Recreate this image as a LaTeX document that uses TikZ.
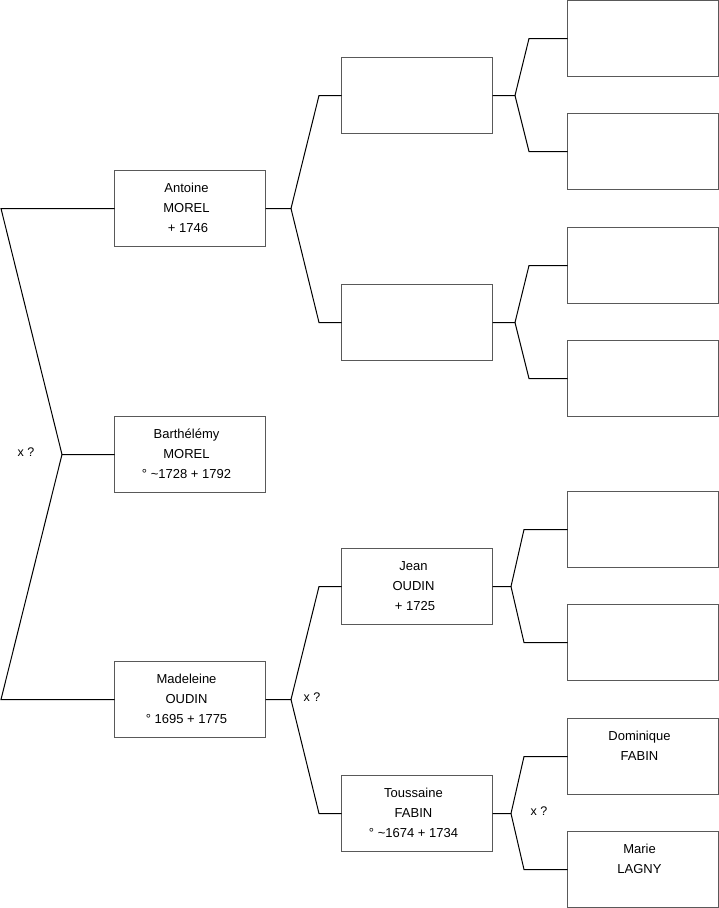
\documentclass[tikz,border=0pt]{standalone}
\usepackage{fontspec}
\setmainfont{Liberation Sans}
\newcommand\persontext[3]{\raisebox{2pt}{\begin{tabular}{@{}c@{\hspace{7pt}}}#1\\#2\\#3\strut\end{tabular}}}
\begin{document}
\begin{tikzpicture}[x=1pt,y=-1pt,
  person/.style={draw=black!65, line width=1pt, minimum width=151pt, minimum height=76pt,
    inner sep=0pt, outer sep=0pt, font=\fontsize{13}{20}\selectfont, anchor=north west},
  link/.style={draw=black, line width=1pt},
  lbl/.style={font=\fontsize{12.5}{14}\selectfont, inner sep=0pt}]
\useasboundingbox (0,0) rectangle (719,908);
% generation 1
\node[person] (a) at (114.5,170.5) {\persontext{Antoine}{MOREL}{\hspace{3pt}+ 1746}};
\node[person] (b) at (114.5,416.5) {\persontext{Barthélémy}{MOREL}{° \textasciitilde1728 + 1792}};
\node[person] (m) at (114.5,661.5) {\persontext{Madeleine}{OUDIN}{° 1695 + 1775}};
% generation 2
\node[person] (p1) at (341.5,57.5) {};
\node[person] (p2) at (341.5,284.5) {};
\node[person] (p3) at (341.5,548.5) {\persontext{Jean}{OUDIN}{\hspace{3pt}+ 1725}};
\node[person] (p4) at (341.5,775.5) {\persontext{Toussaine}{FABIN}{° \textasciitilde1674 + 1734}};
% generation 3
\node[person] (q1) at (567.5,0.5) {};
\node[person] (q2) at (567.5,113.5) {};
\node[person] (q3) at (567.5,227.5) {};
\node[person] (q4) at (567.5,340.5) {};
\node[person] (q5) at (567.5,491.5) {};
\node[person] (q6) at (567.5,604.5) {};
\node[person] (q7) at (567.5,718.5) {\persontext{Dominique}{FABIN}{}};
\node[person] (q8) at (567.5,831.5) {\persontext{Marie}{LAGNY}{}};
% fork points
\coordinate (fb) at (62,454.5);
\coordinate (fb1) at (1,208.5);
\coordinate (fb2) at (1,699.5);
\coordinate (fa) at (291,208.5);
\coordinate (fa1) at (319,95.5);
\coordinate (fa2) at (319,322.5);
\coordinate (fm) at (291,699.5);
\coordinate (fm1) at (319,586.5);
\coordinate (fm2) at (319,813.5);
\coordinate (f1) at (515,95.5);
\coordinate (f11) at (529,38.5);
\coordinate (f12) at (529,151.5);
\coordinate (f2) at (515,322.5);
\coordinate (f21) at (529,265.5);
\coordinate (f22) at (529,378.5);
\coordinate (f3) at (511,586.5);
\coordinate (f31) at (524,529.5);
\coordinate (f32) at (524,642.5);
\coordinate (f4) at (511,813.5);
\coordinate (f41) at (524,756.5);
\coordinate (f42) at (524,869.5);
% connectors
\draw[link] (b.west) -- (fb) -- (fb1) -- (a.west);
\draw[link] (fb) -- (fb2) -- (m.west);
\draw[link] (a.east) -- (fa) -- (fa1) -- (p1.west);
\draw[link] (fa) -- (fa2) -- (p2.west);
\draw[link] (m.east) -- (fm) -- (fm1) -- (p3.west);
\draw[link] (fm) -- (fm2) -- (p4.west);
\draw[link] (p1.east) -- (f1) -- (f11) -- (q1.west);
\draw[link] (f1) -- (f12) -- (q2.west);
\draw[link] (p2.east) -- (f2) -- (f21) -- (q3.west);
\draw[link] (f2) -- (f22) -- (q4.west);
\draw[link] (p3.east) -- (f3) -- (f31) -- (q5.west);
\draw[link] (f3) -- (f32) -- (q6.west);
\draw[link] (p4.east) -- (f4) -- (f41) -- (q7.west);
\draw[link] (f4) -- (f42) -- (q8.west);
% marriage labels
\node[lbl] (x1) at (26,452) {x ?};
\node[lbl] (x2) at (312,697) {x ?};
\node[lbl] (x3) at (539,811) {x ?};
\end{tikzpicture}
\end{document}
